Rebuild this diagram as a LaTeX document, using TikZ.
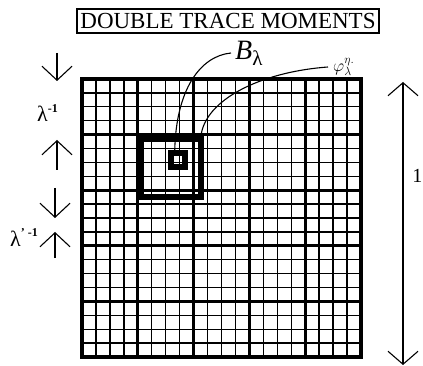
\documentclass[tikz,border=0pt]{standalone}
\usepackage{fontspec}
\setmainfont{Liberation Serif}
\usetikzlibrary{arrows.meta}
\begin{document}
\begin{tikzpicture}[x=1pt,y=-1pt,
  minor/.style={line width=1.4pt},
  major/.style={line width=2.9pt},
  frame/.style={draw, line width=6pt, inner sep=0pt},
  dimarrow/.style={line width=1.1pt, -{Straight Barb[length=14pt,width=30pt]}},
  bothway/.style={line width=1.1pt, {Straight Barb[length=13pt,width=30pt]}-{Straight Barb[length=13pt,width=30pt]}},
  lead/.style={line width=1.1pt},
  lbl/.style={inner sep=0pt}]
\useasboundingbox (0,0) rectangle (423,366);
\fill[white] (0,0) rectangle (423,366);

% title
\node[draw, line width=1.3pt, minimum width=302pt, minimum height=24pt, inner sep=0pt] (title) at (228,21)
  {\fontsize{23}{23}\selectfont DOUBLE TRACE MOMENTS};

% grid
\foreach \i in {0,...,20}{
  \pgfmathsetmacro\xx{82+\i*13.95}
  \pgfmathsetmacro\yy{79+\i*13.9}
  \draw[minor] (\xx,79) -- (\xx,357);
  \draw[minor] (82,\yy) -- (361,\yy);
}
\foreach \i in {4,8,12,16}{
  \pgfmathsetmacro\xx{82+\i*13.95}
  \pgfmathsetmacro\yy{79+\i*13.9}
  \draw[major] (\xx,79) -- (\xx,357);
  \draw[major] (82,\yy) -- (361,\yy);
}
\draw[line width=3.2pt] (82,79) rectangle (361,357);

% boxes
\node[frame, minimum width=60pt, minimum height=58pt] (big) at (171,168) {};
\node[frame, minimum width=13.5pt, minimum height=13.5pt] (small) at (177.75,160.25) {};

% labels
\node[lbl, anchor=base west] (B) at (235,60)
  {{\fontsize{28}{28}\selectfont\itshape B}\raisebox{-6pt}{\fontsize{21}{21}\selectfont λ}};
\node[lbl, anchor=base west] (phi) at (333,72)
  {\fontsize{17}{17}\selectfont $\varphi^{\eta.}_{\lambda}$};
\coordinate (Bstart) at (231,53);
\coordinate (phistart) at (328,67);
\draw[lead] (Bstart) .. controls (200,56) and (176,90) .. ([xshift=-3pt]small.north);
\draw[lead] (phistart) .. controls (260,72) and (205,100) .. ([xshift=-3pt]big.north east);

% left dimension arrows
\coordinate (a1s) at (57,53);  \coordinate (a1e) at (57,81);
\coordinate (a2s) at (57,170); \coordinate (a2e) at (57,140);
\coordinate (a3s) at (55,188); \coordinate (a3e) at (55,218);
\coordinate (a4s) at (55,258); \coordinate (a4e) at (55,232);
\draw[dimarrow] (a1s) -- (a1e);
\draw[dimarrow] (a2s) -- (a2e);
\draw[dimarrow] (a3s) -- (a3e);
\draw[dimarrow] (a4s) -- (a4e);
\node[lbl, anchor=base west] (lam) at (37,122)
  {{\fontsize{22}{22}\selectfont λ}\raisebox{9pt}{\fontsize{12}{12}\selectfont\bfseries -1}};
\node[lbl, anchor=base west] (lamp) at (10,247)
  {{\fontsize{22}{22}\selectfont λ}\raisebox{10pt}{\fontsize{12}{12}\selectfont\bfseries ' -1}};

% right arrow
\coordinate (rt) at (403,82);
\coordinate (rb) at (403,365);
\draw[bothway] (rt) -- (rb);
\node[lbl, anchor=base east] (one) at (422.5,183) {\fontsize{20}{20}\selectfont 1};
\end{tikzpicture}
\end{document}
